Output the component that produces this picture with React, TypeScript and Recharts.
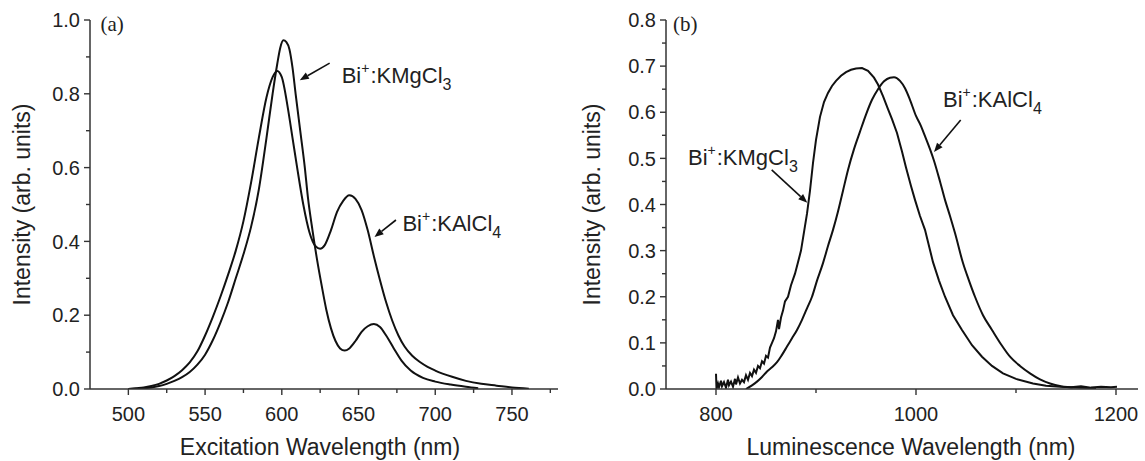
import React from 'react';
import { LineChart, Line, XAxis, YAxis, ReferenceDot, ReferenceLine } from 'recharts';

// ---------- Panel (a): excitation spectra ----------
const excKMgWavelength = [500, 505, 510, 515, 520, 525, 530, 535, 540, 545, 550, 555, 560, 565, 570, 575, 580, 585, 590, 594, 597, 599, 601, 603, 605, 607, 609, 612, 615, 617, 620, 623, 626, 629, 632, 635, 638, 641, 644, 648, 652, 656, 660, 664, 668, 673, 678, 684, 692, 700, 710, 720, 728];
const excKMgIntensity = [0.0, 0.001, 0.002, 0.004, 0.008, 0.014, 0.022, 0.032, 0.046, 0.066, 0.093, 0.132, 0.18, 0.235, 0.3, 0.365, 0.44, 0.54, 0.68, 0.8, 0.88, 0.925, 0.945, 0.94, 0.92, 0.87, 0.8, 0.7, 0.6, 0.52, 0.43, 0.35, 0.28, 0.215, 0.165, 0.13, 0.11, 0.104, 0.11, 0.13, 0.155, 0.17, 0.176, 0.168, 0.145, 0.11, 0.077, 0.05, 0.03, 0.02, 0.012, 0.006, 0.002];

const excKAlWavelength = [500, 505, 510, 515, 520, 525, 530, 535, 540, 545, 550, 555, 560, 565, 570, 575, 580, 585, 590, 594, 597, 600, 604, 607, 610, 614, 618, 622, 625, 628, 632, 636, 640, 644, 648, 652, 656, 660, 664, 668, 672, 676, 680, 685, 690, 695, 700, 711, 720, 730, 740, 750, 761];
const excKAlIntensity = [0.0, 0.002, 0.004, 0.008, 0.014, 0.023, 0.035, 0.051, 0.072, 0.102, 0.145, 0.195, 0.25, 0.31, 0.375, 0.455, 0.56, 0.68, 0.79, 0.845, 0.862, 0.845, 0.76, 0.68, 0.6, 0.5, 0.425, 0.387, 0.38, 0.39, 0.43, 0.48, 0.51, 0.525, 0.515, 0.485, 0.43, 0.36, 0.295, 0.235, 0.185, 0.145, 0.115, 0.09, 0.073, 0.06, 0.05, 0.033, 0.022, 0.014, 0.009, 0.004, 0.001];

const excXTicks = [500, 525, 550, 575, 600, 625, 650, 675, 700, 725, 750, 775];
const excXLabels = [500, 550, 600, 650, 700, 750];
const excYTicks = [0, 0.1, 0.2, 0.3, 0.4, 0.5, 0.6, 0.7, 0.8, 0.9, 1.0];
const excYLabels = [0, 0.2, 0.4, 0.6, 0.8, 1.0];

// ---------- Panel (b): luminescence spectra ----------
const lumKMgWavelength = [800, 800.5, 802, 803, 805, 806, 808, 810, 812, 813, 815, 817, 819, 820, 822, 824, 826, 828, 830, 832, 834, 836, 838, 840, 842, 844, 846, 848, 850, 852, 854, 856, 858, 860, 862, 863, 865, 867, 869, 872, 875, 879, 882, 885, 888, 891, 894, 897, 900, 904, 908, 912, 916, 920, 925, 930, 935, 940, 946, 952, 958, 962, 967, 972, 976, 981, 986, 990, 995, 999, 1004, 1009, 1017, 1023, 1029, 1037, 1046, 1056, 1066, 1076, 1087, 1100, 1117, 1130, 1144, 1155, 1165, 1175, 1185, 1195, 1201];
const lumKMgIntensity = [0.033, 0.0, 0.012, 0.004, 0.018, 0.006, 0.015, 0.003, 0.02, 0.008, 0.016, 0.005, 0.022, 0.01, 0.025, 0.012, 0.02, 0.015, 0.03, 0.02, 0.035, 0.028, 0.042, 0.035, 0.05, 0.045, 0.06, 0.055, 0.072, 0.068, 0.09, 0.1, 0.11, 0.125, 0.15, 0.13, 0.155, 0.17, 0.19, 0.2, 0.225, 0.25, 0.275, 0.3, 0.34, 0.38, 0.43, 0.49, 0.54, 0.59, 0.622, 0.642, 0.657, 0.668, 0.679, 0.687, 0.692, 0.695, 0.696, 0.69, 0.675, 0.66, 0.635, 0.607, 0.585, 0.555, 0.515, 0.48, 0.44, 0.41, 0.375, 0.345, 0.275, 0.235, 0.2, 0.16, 0.128, 0.095, 0.07, 0.05, 0.034, 0.022, 0.012, 0.007, 0.005, 0.004, 0.006, 0.003, 0.005, 0.004, 0.005];

const lumKAlWavelength = [830, 836, 841, 846, 851, 856, 861, 866, 871, 876, 881, 886, 891, 896, 901, 907, 912, 917, 922, 927, 932, 938, 944, 950, 956, 962, 968, 974, 978, 984, 989, 994, 1000, 1005, 1009, 1014, 1018, 1024, 1029, 1034, 1039, 1047, 1053, 1059, 1067, 1076, 1085, 1094, 1104, 1114, 1124, 1134, 1145, 1160, 1180];
const lumKAlIntensity = [0.0, 0.008, 0.016, 0.026, 0.038, 0.047, 0.058, 0.074, 0.092, 0.11, 0.128, 0.15, 0.175, 0.2, 0.235, 0.273, 0.31, 0.345, 0.385, 0.43, 0.475, 0.52, 0.558, 0.595, 0.627, 0.65, 0.667, 0.675, 0.676, 0.668, 0.652, 0.627, 0.592, 0.57, 0.548, 0.52, 0.495, 0.45, 0.41, 0.375, 0.338, 0.273, 0.235, 0.2, 0.16, 0.128, 0.097, 0.07, 0.05, 0.034, 0.021, 0.012, 0.006, 0.003, 0.002];

const lumXTicks = [800, 900, 1000, 1100, 1200];
const lumXLabels = [800, 1000, 1200];
const lumYTicks = [0, 0.05, 0.1, 0.15, 0.2, 0.25, 0.3, 0.35, 0.4, 0.45, 0.5, 0.55, 0.6, 0.65, 0.7, 0.75, 0.8];
const lumYLabels = [0, 0.1, 0.2, 0.3, 0.4, 0.5, 0.6, 0.7, 0.8];

const zip = (xs: number[], ys: number[]) => xs.map((x, i) => ({ x, y: ys[i] }));

const excKMg = zip(excKMgWavelength, excKMgIntensity);
const excKAl = zip(excKAlWavelength, excKAlIntensity);
const lumKMg = zip(lumKMgWavelength, lumKMgIntensity);
const lumKAl = zip(lumKAlWavelength, lumKAlIntensity);

const AXIS = '#333';
const TEXT = '#222';
const CURVE = '#111';
const SANS = '"Liberation Sans", Arial, Helvetica, sans-serif';
const SERIF = '"Liberation Serif", "Times New Roman", serif';

const isIn = (arr: number[], v: number) => arr.some((a) => Math.abs(a - v) < 1e-9);

const makeXTick = (labels: number[]) => (props: any) => {
  const { x, y, payload } = props;
  const major = isIn(labels, payload.value);
  return (
    <g>
      <line x1={x} y1={y} x2={x} y2={y + (major ? 6 : 4)} stroke={AXIS} strokeWidth={1.4} />
      {major && (
        <text x={x} y={y + 32} textAnchor="middle" fontSize={20} fill={TEXT} fontFamily={SANS}>
          {String(payload.value)}
        </text>
      )}
    </g>
  );
};

const makeYTick = (labels: number[]) => (props: any) => {
  const { x, y, payload } = props;
  const major = isIn(labels, payload.value);
  return (
    <g>
      <line x1={x} y1={y} x2={x - (major ? 6 : 4)} y2={y} stroke={AXIS} strokeWidth={1.4} />
      {major && (
        <text x={x - 10} y={y} dy="0.36em" textAnchor="end" fontSize={20} fill={TEXT} fontFamily={SANS}>
          {Number(payload.value).toFixed(1)}
        </text>
      )}
    </g>
  );
};

const makeXTitle = (title: string, dx: number) => (props: any) => {
  const vb = props.viewBox;
  return (
    <text x={vb.x + vb.width / 2 + dx} y={vb.y + 66} textAnchor="middle" fontSize={23} fill={TEXT} fontFamily={SANS}>
      {title}
    </text>
  );
};

const makeYTitle = (title: string) => (props: any) => {
  const vb = props.viewBox;
  const cx = vb.x + 22;
  const cy = vb.y + vb.height / 2;
  return (
    <text x={cx} y={cy} dy="0.36em" transform={`rotate(-90 ${cx} ${cy})`} textAnchor="middle" fontSize={23} fill={TEXT} fontFamily={SANS}>
      {title}
    </text>
  );
};

const makeCompound = (cation: string, rest: string, sub: string) => (props: any) => {
  const { cx, cy } = props;
  return (
    <text x={cx} y={cy} fontSize={22} fill={TEXT} fontFamily={SANS}>
      {'Bi'}
      <tspan dy={-10} fontSize={14}>{cation}</tspan>
      <tspan dy={10} dx={1}>{rest}</tspan>
      <tspan dy={7} fontSize={16}>{sub}</tspan>
    </text>
  );
};

const makePanelLabel = (t: string) => (props: any) => {
  const { cx, cy } = props;
  return (
    <text x={cx} y={cy} fontSize={21} fill={TEXT} fontFamily={SERIF}>
      {t}
    </text>
  );
};

const ArrowShape = (props: any) => {
  const { x1, y1, x2, y2 } = props;
  const ang = Math.atan2(y2 - y1, x2 - x1);
  const L = 9;
  const W = 3.6;
  const bx = x2 - L * Math.cos(ang);
  const by = y2 - L * Math.sin(ang);
  const px = -Math.sin(ang) * W;
  const py = Math.cos(ang) * W;
  return (
    <g>
      <line x1={x1} y1={y1} x2={bx} y2={by} stroke={CURVE} strokeWidth={1.6} />
      <polygon points={`${x2},${y2} ${bx + px},${by + py} ${bx - px},${by - py}`} fill={CURVE} />
    </g>
  );
};

const ExcitationChart = () => (
  <LineChart width={570} height={461} margin={{ top: 20, right: 12, bottom: 0, left: 0 }}>
    <XAxis
      dataKey="x"
      type="number"
      domain={[475, 780]}
      ticks={excXTicks}
      interval={0}
      tickSize={0}
      tickMargin={0}
      tickLine={false}
      tick={makeXTick(excXLabels)}
      axisLine={{ stroke: AXIS, strokeWidth: 1.5 }}
      height={72}
      allowDataOverflow
      label={{ content: makeXTitle('Excitation Wavelength (nm)', -4) }}
    />
    <YAxis
      type="number"
      domain={[0, 1]}
      ticks={excYTicks}
      interval={0}
      tickSize={0}
      tickMargin={0}
      tickLine={false}
      tick={makeYTick(excYLabels)}
      axisLine={{ stroke: AXIS, strokeWidth: 1.5 }}
      width={90}
      allowDataOverflow
      label={{ content: makeYTitle('Intensity (arb. units)') }}
    />
    <Line data={excKAl} dataKey="y" type="monotone" stroke={CURVE} strokeWidth={2} dot={false} isAnimationActive={false} />
    <Line data={excKMg} dataKey="y" type="monotone" stroke={CURVE} strokeWidth={2} dot={false} isAnimationActive={false} />
    <ReferenceDot x={481.8} y={0.97} r={0} shape={makePanelLabel('(a)')} />
    <ReferenceLine segment={[{ x: 631.2, y: 0.883 }, { x: 611.7, y: 0.837 }]} shape={ArrowShape} />
    <ReferenceDot x={639} y={0.829} r={0} shape={makeCompound('+', ':KMgCl', '3')} />
    <ReferenceLine segment={[{ x: 674.4, y: 0.458 }, { x: 660.4, y: 0.412 }]} shape={ArrowShape} />
    <ReferenceDot x={678.6} y={0.428} r={0} shape={makeCompound('+', ':KAlCl', '4')} />
  </LineChart>
);

const LuminescenceChart = () => (
  <LineChart width={575} height={461} margin={{ top: 20, right: 7, bottom: 0, left: 0 }}>
    <XAxis
      dataKey="x"
      type="number"
      domain={[750, 1222]}
      ticks={lumXTicks}
      interval={0}
      tickSize={0}
      tickMargin={0}
      tickLine={false}
      tick={makeXTick(lumXLabels)}
      axisLine={{ stroke: AXIS, strokeWidth: 1.5 }}
      height={72}
      allowDataOverflow
      label={{ content: makeXTitle('Luminescence Wavelength (nm)', 9) }}
    />
    <YAxis
      type="number"
      domain={[0, 0.8]}
      ticks={lumYTicks}
      interval={0}
      tickSize={0}
      tickMargin={0}
      tickLine={false}
      tick={makeYTick(lumYLabels)}
      axisLine={{ stroke: AXIS, strokeWidth: 1.5 }}
      width={96}
      allowDataOverflow
      label={{ content: makeYTitle('Intensity (arb. units)') }}
    />
    <Line data={lumKAl} dataKey="y" type="monotone" stroke={CURVE} strokeWidth={2} dot={false} isAnimationActive={false} />
    <Line data={lumKMg} dataKey="y" type="linear" stroke={CURVE} strokeWidth={2} dot={false} isAnimationActive={false} />
    <ReferenceDot x={757} y={0.776} r={0} shape={makePanelLabel('(b)')} />
    <ReferenceLine segment={[{ x: 855.7, y: 0.475 }, { x: 891.3, y: 0.404 }]} shape={ArrowShape} />
    <ReferenceDot x={772} y={0.486} r={0} shape={makeCompound('+', ':KMgCl', '3')} />
    <ReferenceLine segment={[{ x: 1044.7, y: 0.583 }, { x: 1018, y: 0.514 }]} shape={ArrowShape} />
    <ReferenceDot x={1027} y={0.611} r={0} shape={makeCompound('+', ':KAlCl', '4')} />
  </LineChart>
);

export default function App() {
  return (
    <div style={{ position: 'absolute', left: 0, top: 0, width: 1145, height: 461, background: '#fff', overflow: 'hidden' }}>
      <div style={{ position: 'absolute', left: 0, top: 0 }}>
        <ExcitationChart />
      </div>
      <div style={{ position: 'absolute', left: 570, top: 0 }}>
        <LuminescenceChart />
      </div>
    </div>
  );
}
